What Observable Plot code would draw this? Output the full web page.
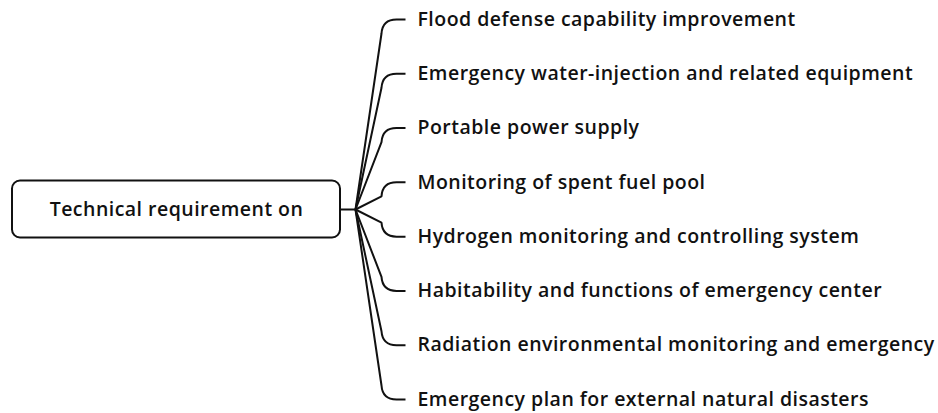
<!DOCTYPE html>
<html>
<head>
<meta charset="utf-8">
<script src="https://cdn.jsdelivr.net/npm/d3@7"></script>
<script src="https://cdn.jsdelivr.net/npm/@observablehq/plot@0.6"></script>
<style>
  html, body { margin: 0; padding: 0; background: #fff; }
</style>
</head>
<body>
<div id="chart"></div>
<script>
const rootLabel = "Technical requirement on";
const leaves = [
  "Flood defense capability improvement",
  "Emergency water-injection and related equipment",
  "Portable power supply",
  "Monitoring of spent fuel pool",
  "Hydrogen monitoring and controlling system",
  "Habitability and functions of emergency center",
  "Radiation environmental monitoring and emergency",
  "Emergency plan for external natural disasters"
];

const rootIndex = (leaves.length - 1) / 2;
const leafData = leaves.map((label, i) => ({label, i}));

// custom elbow curve: slanted line, rounded corner, then horizontal
function elbow(context) {
  let pts = [];
  return {
    areaStart() {}, areaEnd() {},
    lineStart() { pts = []; },
    point(x, y) { pts.push([x, y]); },
    lineEnd() {
      const [x0, y0] = pts[0];
      const [x1, y1] = pts[pts.length - 1];
      const dy = y1 - y0;
      const s = Math.sign(dy) || 1;
      const r = Math.min(14, Math.abs(dy) * 0.55);
      const xc = x0 + 26;
      context.moveTo(x0, y0);
      context.lineTo(xc, y1 - s * r);
      context.quadraticCurveTo(xc + 1, y1, xc + 1 + r, y1);
      context.lineTo(x1, y1);
    }
  };
}

const font = "'Open Sans', sans-serif";

const chart = Plot.plot({
  width: 938,
  height: 413,
  margin: 0,
  style: {fontFamily: font, background: "#fff", letterSpacing: "0.48px"},
  x: {type: "linear", domain: [0, 938], range: [0, 938], axis: null},
  y: {type: "linear", domain: [0, leaves.length - 1], range: [19, 399], axis: null},
  marks: [
    Plot.link(leafData, {
      x1: () => 355, y1: () => rootIndex,
      x2: () => 405, y2: "i",
      curve: elbow,
      stroke: "#111", strokeWidth: 2
    }),
    Plot.link([rootLabel], {
      x1: () => 340, y1: () => rootIndex,
      x2: () => 356, y2: () => rootIndex,
      stroke: "#111", strokeWidth: 2
    }),
    Plot.rect([rootLabel], {
      x1: () => 12, x2: () => 340,
      y1: () => rootIndex - 0.525, y2: () => rootIndex + 0.525,
      rx: 8, fill: "#fff", stroke: "#111", strokeWidth: 2
    }),
    Plot.text([rootLabel], {
      x: () => 176, y: () => rootIndex, text: d => d,
      fontSize: 19.5, fontWeight: 600, fill: "#111", fontFamily: font
    }),
    Plot.text(leafData, {
      x: () => 417, y: "i", text: "label", textAnchor: "start",
      fontSize: 19.5, fontWeight: 600, fill: "#111", fontFamily: font
    })
  ]
});
document.getElementById("chart").appendChild(chart);
</script>
</body>
</html>
